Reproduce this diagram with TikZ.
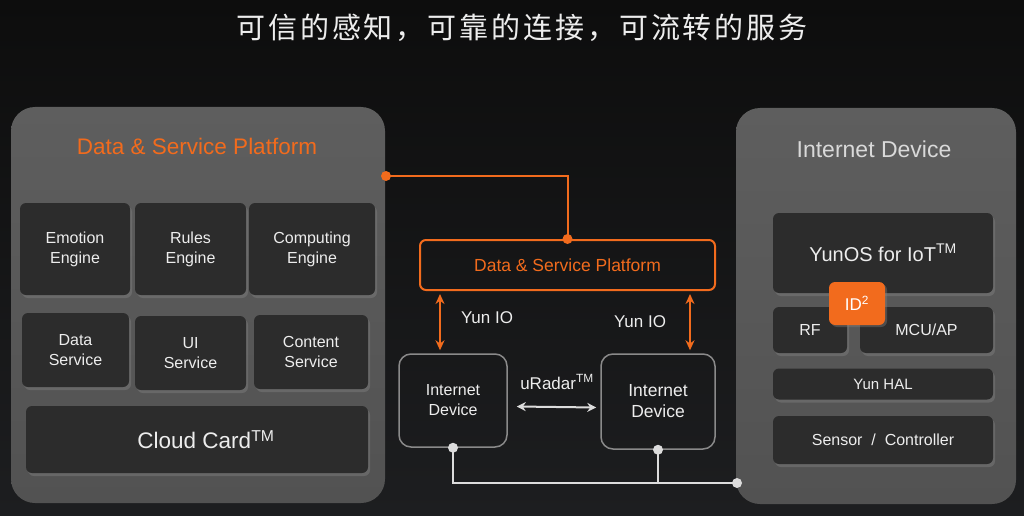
\documentclass[tikz,border=0pt]{standalone}
\usepackage{fontspec}
\setmainfont{Liberation Sans}
\newfontfamily\cjk[LetterSpace=10]{Noto Sans CJK SC}
\usepackage{xcolor}
\usetikzlibrary{arrows.meta, calc, shadows}
\definecolor{bgtop}{HTML}{0D0D0D}
\definecolor{bgbot}{HTML}{1D1E20}
\definecolor{panelhi}{HTML}{5E5E5E}
\definecolor{panello}{HTML}{525252}
\definecolor{cellfill}{HTML}{2C2C2C}
\definecolor{aliorange}{HTML}{F26B1D}
\definecolor{framegray}{HTML}{8A8A8A}
\definecolor{wirewhite}{HTML}{DCDCDC}

\begin{document}
\begin{tikzpicture}[x=1pt, y=-1pt, >=Stealth,
    panel/.style={rounded corners=24, top color=panelhi, bottom color=panello, inner sep=0},
    cellbox/.style={fill=cellfill, rounded corners=6, inner sep=0, text=white!93!black,
        align=center, font=\fontsize{16}{20}\selectfont,
        drop shadow={opacity=0.45, shadow xshift=2pt, shadow yshift=-3pt}},
    devbox/.style={draw=framegray, line width=1.5pt, rounded corners=12, inner sep=0,
        text=white!93!black, align=center},
    lbl/.style={text=white!93!black, inner sep=0},
    ioarrow/.style={<->, draw=aliorange, line width=2pt, >={Stealth[length=10pt, width=9pt]}},
    odot/.style={circle, fill=aliorange, inner sep=0, minimum size=10pt},
    wdot/.style={circle, fill=wirewhite, inner sep=0, minimum size=10pt}]
    % background
    \fill[top color=bgtop, bottom color=bgbot] (0,0) rectangle (1024,516);
    \useasboundingbox (0,0) rectangle (1024,516);
    \node[lbl, font=\cjk\fontsize{29}{32}\selectfont] (title) at (522,28)
        {可信的感知，可靠的连接，可流转的服务};
    % Left: cloud side
    \node[panel, minimum width=374, minimum height=396] (cloud) at (198,305) {};
    \node[text=aliorange, font=\fontsize{22.5}{26}\selectfont, inner sep=0] (cloudtitle) at (197,146)
        {Data \& Service Platform};
    \node[cellbox, minimum width=110, minimum height=92] (emotion) at (75,249) {Emotion\\Engine};
    \node[cellbox, minimum width=111, minimum height=92] (rules) at (190.5,249) {Rules\\Engine};
    \node[cellbox, minimum width=126, minimum height=92] (computing) at (312,249) {Computing\\Engine};
    \node[cellbox, minimum width=107, minimum height=74] (data) at (75.5,350) {Data\\Service};
    \node[cellbox, minimum width=111, minimum height=74] (ui) at (190.5,353) {UI\\Service};
    \node[cellbox, minimum width=114, minimum height=74] (content) at (311,352) {Content\\Service};
    \node[cellbox, minimum width=342, minimum height=67, font=\fontsize{22.5}{26}\selectfont]
        (card) at (197,439.5) {\hspace*{18pt}Cloud Card\textsuperscript{TM}};
    % Middle: platform and two devices
    \node[draw=aliorange, line width=2pt, rounded corners=6, inner sep=0,
        minimum width=295, minimum height=50, text=aliorange,
        font=\fontsize{17.5}{20}\selectfont] (plat) at (567.5,265) {Data \& Service Platform};
    \node[devbox, minimum width=108, minimum height=93, font=\fontsize{16}{20}\selectfont]
        (dev1) at (453,400.5) {Internet\\Device};
    \node[devbox, minimum width=114, minimum height=95, font=\fontsize{17.5}{21}\selectfont]
        (dev2) at (658,401.5) {Internet\\Device};
    \node[lbl, font=\fontsize{17}{20}\selectfont] (io1) at (487,318) {Yun IO};
    \node[lbl, font=\fontsize{17}{20}\selectfont] (io2) at (640,322) {Yun IO};
    \node[lbl, font=\fontsize{17}{20}\selectfont] (radar) at (557,382) {uRadar\textsuperscript{TM}};
    % Yun IO links
    \draw[ioarrow] ($(dev1.north)+(-13,-3)$) -- ($(dev1.north |- plat.south)+(-13,3)$);
    \draw[ioarrow] ($(dev2.north)+(32,-3)$) -- ($(dev2.north |- plat.south)+(32,3)$);
    % uRadar link
    \draw[<->, draw=wirewhite, line width=2pt, >={Stealth[length=9pt, width=9pt]}]
        ($(dev1.east)+(9,6)$) -- ($(dev2.west)+(-4,6)$);
    % orange wire from cloud to platform
    \coordinate (lnk) at (386,176);
    \draw[aliorange, line width=2pt] (lnk) -| (plat.north);
    \node[odot] at (lnk) {};
    \node[odot] at (plat.north) {};
    % Right: device stack
    \node[panel, minimum width=280, minimum height=396] (dev) at (876,306) {};
    \node[lbl, text=white!85!black, font=\fontsize{23}{26}\selectfont] (devtitle) at (874,149)
        {Internet Device};
    \node[cellbox, minimum width=220, minimum height=80, font=\fontsize{20}{24}\selectfont]
        (yunos) at (883,253) {YunOS for IoT\textsuperscript{TM}};
    \node[cellbox, minimum width=74, minimum height=46] (rf) at (810,330) {RF};
    \node[cellbox, minimum width=133, minimum height=46] (mcu) at (926.5,330) {MCU/AP};
    \node[cellbox, minimum width=220, minimum height=31, font=\fontsize{15}{18}\selectfont]
        (hal) at (883,384) {Yun HAL};
    \node[cellbox, minimum width=220, minimum height=48] (sensor) at (883,440)
        {Sensor \;/\; Controller};
    \node[fill=aliorange, rounded corners=6, inner sep=0, minimum width=56, minimum height=43,
        text=white, font=\fontsize{17}{20}\selectfont,
        drop shadow={opacity=0.4, shadow xshift=2pt, shadow yshift=-2pt}]
        (id) at (857,303.5) {ID\textsuperscript{2}};
    % white wires from devices to device panel
    \coordinate (tap) at (737,483);
    \draw[wirewhite, line width=2pt] (dev1.south) |- (tap);
    \draw[wirewhite, line width=2pt] (dev2.south) -- (dev2.south |- tap);
    \node[wdot] at (dev1.south) {};
    \node[wdot] at (dev2.south) {};
    \node[wdot] at (tap) {};
\end{tikzpicture}
\end{document}
